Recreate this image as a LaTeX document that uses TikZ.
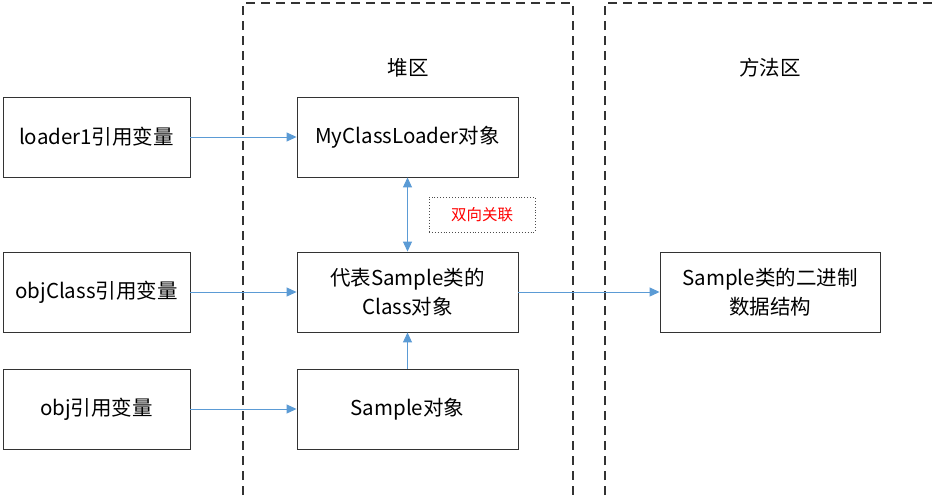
\documentclass[tikz,border=0pt]{standalone}
\usepackage{fontspec}
\setmainfont{Noto Sans CJK SC}
\usetikzlibrary{arrows.meta}
\definecolor{arrowblue}{HTML}{5B9BD5}
\definecolor{regiongray}{HTML}{333333}
\tikzset{
  box/.style={draw=black!80, line width=0.9pt, minimum width=221pt, minimum height=80pt, inner sep=0pt, align=center, font=\fontsize{20.5}{29}\selectfont},
  refbox/.style={box, minimum width=187pt},
  region/.style={draw=regiongray, line width=1.2pt, dash pattern=on 9pt off 6pt},
  link/.style={draw=arrowblue, line width=1pt, -{Triangle[length=10pt,width=9pt]}},
  both/.style={link, {Triangle[length=10pt,width=9pt]}-{Triangle[length=10pt,width=9pt]}},
  note/.style={draw=black!70, dotted, line width=0.9pt, minimum width=106pt, minimum height=35pt, text=red, font=\fontsize{15.5}{18}\selectfont},
  title/.style={font=\fontsize{20.5}{24}\selectfont}
}
\begin{document}
\begin{tikzpicture}[x=1pt,y=-1pt]
\useasboundingbox[fill=white] (0,0) rectangle (935,498);
% regions
\draw[region] (243,510) -- (243,3) -- (573,3) -- (573,510);
\draw[region] (605,510) -- (605,3) -- (945,3);
\node[title] (heap) at (408,68) {堆区};
\node[title] (method) at (770,68) {方法区};
% left boxes
\node[refbox] (loader) at (96.5,137) {loader1引用变量};
\node[refbox] (objclass) at (96.5,292) {objClass引用变量};
\node[refbox] (obj) at (96.5,409) {obj引用变量};
% heap boxes
\node[box] (mcl) at (407.5,137) {MyClassLoader对象};
\node[box] (cls) at (407.5,292) {代表Sample类的\\Class对象};
\node[box] (smp) at (407.5,409) {Sample对象};
% method box
\node[box, minimum width=220pt] (bin) at (770,292) {Sample类的二进制\\数据结构};
% note
\node[note] (assoc) at (482,214.5) {双向关联};
% connectors
\draw[link] (loader) -- (mcl);
\draw[link] (objclass) -- (cls);
\draw[link] (obj) -- (smp);
\draw[link] (cls) -- (bin);
\draw[link] (smp) -- (cls);
\draw[both] (mcl) -- (cls);
\end{tikzpicture}
\end{document}
